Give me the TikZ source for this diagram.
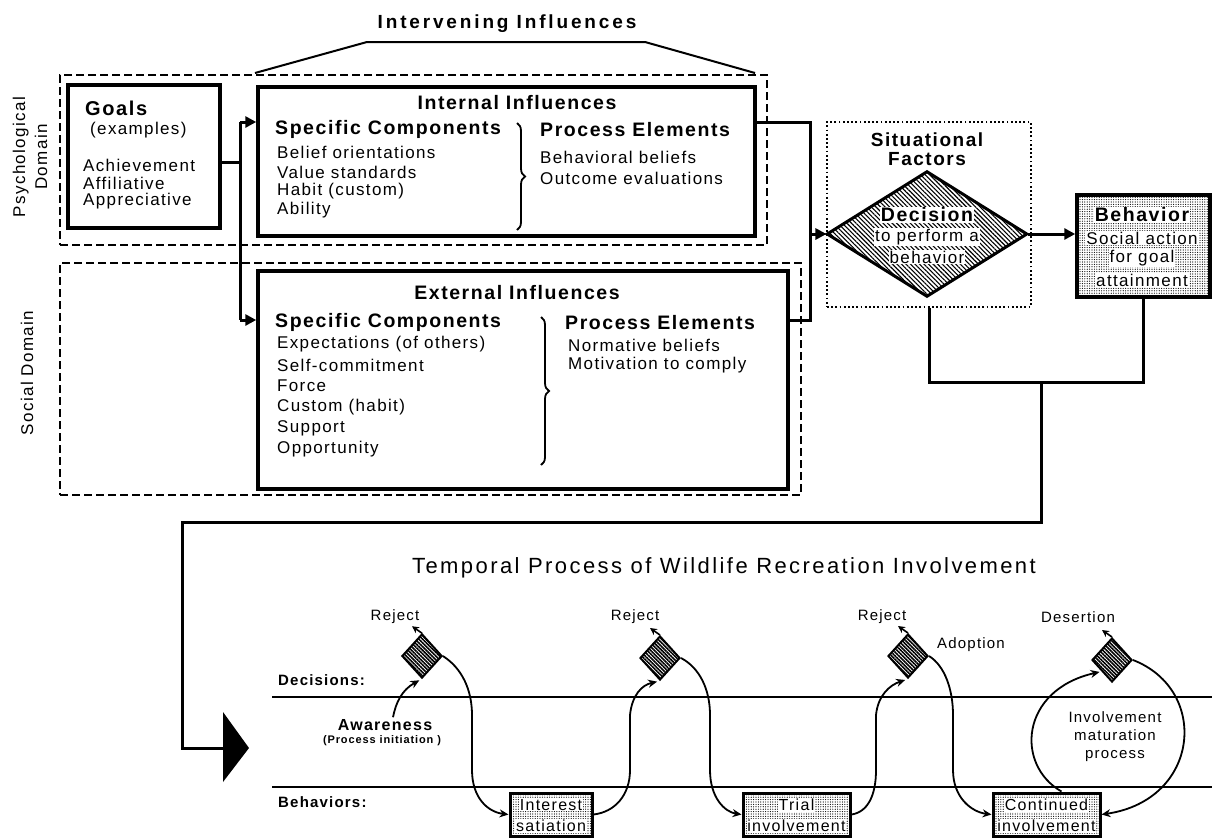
\documentclass[tikz,border=0pt]{standalone}
\usepackage{fontspec}
\setmainfont{Liberation Sans}[LetterSpace=8]
\usetikzlibrary{arrows.meta,patterns.meta,shapes.geometric,calc,decorations.pathreplacing}
\newcommand\fs[2]{\fontsize{#1}{#2}\selectfont}
\begin{document}
\begin{tikzpicture}[x=1pt,y=-1pt,
  bx/.style={draw, line width=3.5pt, inner sep=0pt},
  dbx/.style={draw, line width=1.8pt, dash pattern=on 8pt off 4pt, inner sep=0pt},
  dotbx/.style={draw, line width=1.8pt, dash pattern=on 1.8pt off 2.4pt, inner sep=0pt},
  conn/.style={line width=3pt},
  arr/.style={-{Triangle[length=11pt,width=11pt]}},
  crv/.style={line width=1.8pt,-{Stealth[length=9pt,width=8pt]}},
  rj/.style={line width=1.6pt,-{Stealth[length=7pt,width=7pt]}},
  tx/.style={inner sep=0pt, font=\fs{17}{20}},
  hd/.style={inner sep=0pt, font=\fs{19.5}{22}\bfseries},
  lb/.style={inner sep=0pt, font=\fs{15}{18}},
  lbb/.style={inner sep=0pt, font=\fs{15}{18}\bfseries},
  wt/.style={fill=white, inner sep=1pt},
  sdia/.style={diamond, draw, line width=2pt, minimum width=40pt, minimum height=44pt, inner sep=0pt,
    pattern={Lines[angle=-45,distance=2.6pt,line width=1.6pt]}},
  sbox/.style={draw, line width=3pt, minimum height=43pt, inner sep=0pt,
    pattern={Dots[radius=0.6pt,distance=2.4pt]}},
  stx/.style={fill=white, inner sep=0.8pt, font=\fs{16}{19}}
]
\useasboundingbox (0,0) rectangle (1212,838);

% ---------- Intervening influences bracket ----------
\node[inner sep=0pt, font=\fs{19}{22}\bfseries\addfontfeature{LetterSpace=15}] (intv) at (507,24) {Intervening Influences};
\coordinate (b1) at (255,73); \coordinate (b2) at (367,42);
\coordinate (b3) at (645,42); \coordinate (b4) at (755,73);
\draw[line width=2pt] (b1) -- (b2) -- (b3) -- (b4);

% ---------- domain boxes ----------
\node[dbx, minimum width=707pt, minimum height=170pt] (psych) at (413.5,160) {};
\node[dbx, minimum width=741pt, minimum height=232pt] (social) at (430.5,379) {};
\node[rotate=90, align=center, inner sep=0pt, font=\fs{17}{22}] (psylab) at (30,157) {Psychological\\Domain};
\node[rotate=90, inner sep=0pt, font=\fs{17}{20}] (soclab) at (27,373) {Social Domain};

% ---------- Goals ----------
\node[bx, minimum width=152pt, minimum height=143pt] (goals) at (144,156.5) {};
\node[inner sep=0pt, font=\fs{20}{24}\bfseries, anchor=west] (gt) at (85,108) {Goals};
\node[tx, anchor=west] (ge) at (90,130) {(examples)};
\node[tx, anchor=west] (g1) at (83,165) {Achievement};
\node[tx, anchor=west] (g2) at (83,183) {Affiliative};
\node[tx, anchor=west] (g3) at (83,201) {Appreciative};

% ---------- Internal influences ----------
\node[bx, minimum width=497pt, minimum height=149pt] (internal) at (506.5,161.5) {};
\node[hd] (it) at (517,103) {Internal Influences};
\node[hd, anchor=west] (isc) at (275,129) {Specific Components};
\node[tx, anchor=west] (i1) at (277,152) {Belief orientations};
\node[tx, anchor=west] (i2) at (277,172) {Value standards};
\node[tx, anchor=west] (i3) at (277,191) {Habit (custom)};
\node[tx, anchor=west] (i4) at (277,210) {Ability};
\draw[line width=1.8pt, decorate, decoration={brace, amplitude=8pt}] (517,123) -- (517,230);
\node[hd, anchor=west] (ipe) at (540,130) {Process Elements};
\node[tx, anchor=west] (ip1) at (540,157) {Behavioral beliefs};
\node[tx, anchor=west] (ip2) at (540,178) {Outcome evaluations};

% ---------- External influences ----------
\node[bx, minimum width=530pt, minimum height=218pt] (external) at (523,380) {};
\node[hd] (et) at (517,293) {External Influences};
\node[hd, anchor=west] (esc) at (275,322) {Specific Components};
\node[tx, anchor=west] (e1) at (277,344) {Expectations (of others)};
\node[tx, anchor=west] (e2) at (277,365) {Self-commitment};
\node[tx, anchor=west] (e3) at (277,386) {Force};
\node[tx, anchor=west] (e4) at (277,407) {Custom (habit)};
\node[tx, anchor=west] (e5) at (277,428) {Support};
\node[tx, anchor=west] (e6) at (277,449) {Opportunity};
\draw[line width=1.8pt, decorate, decoration={brace, amplitude=8pt}] (541,317) -- (541,465);
\node[hd, anchor=west] (epe) at (565,323) {Process Elements};
\node[tx, anchor=west] (ep1) at (568,345) {Normative beliefs};
\node[tx, anchor=west] (ep2) at (568,365) {Motivation to comply};

% ---------- Goals connectors ----------
\coordinate (jA) at (240,122); \coordinate (jB) at (240,162); \coordinate (jC) at (240,320);
\draw[conn] (goals.east|-jB) -- (jB);
\draw[conn] (jA) -- (jC);
\draw[conn,arr] (jA) -- (internal.west|-jA);
\draw[conn,arr] (jC) -- (external.west|-jC);

% ---------- Situational factors / decision ----------
\node[dotbx, minimum width=204pt, minimum height=185pt] (situ) at (929,214.5) {};
\node[hd, align=center, font=\fs{19}{19}\bfseries] (st) at (927,149) {Situational\\Factors};
\node[diamond, draw, line width=3pt, minimum width=200pt, minimum height=125pt, inner sep=0pt,
  pattern={Lines[angle=-45,distance=3.2pt,line width=1.1pt]}] (dec) at (927,234) {};
\node[hd, wt] (d1t) at (927,215) {Decision};
\node[tx, wt] (d2t) at (927,237) {to perform a};
\node[tx, wt] (d3t) at (927,257) {behavior};

\coordinate (jD) at (810,122); \coordinate (jE) at (810,320); \coordinate (jF) at (810,234);
\draw[conn] (internal.east|-jD) -- (jD) -- (jE) -- (external.east|-jE);
\draw[conn,arr] (jF) -- (dec.west);

% ---------- Behavior ----------
\node[bx, minimum width=133pt, minimum height=102pt, pattern={Dots[radius=0.6pt,distance=2.4pt]}] (behavior) at (1143.5,246) {};
\node[hd, wt] (bt) at (1142,215) {Behavior};
\node[tx, wt] (b1t) at (1142,238) {Social action};
\node[tx, wt] (b2t) at (1142,258) {for goal};
\node[tx, wt] (b3t) at (1142,280) {attainment};
\draw[conn,arr] (dec.east) -- (behavior.west|-dec.east);

% ---------- feedback to temporal process ----------
\coordinate (jH) at (1041,382); \coordinate (jI) at (1041,522);
\coordinate (jJ) at (182,522); \coordinate (jK) at (182,748);
\coordinate (bigA) at (223,748); \coordinate (bigT) at (223,712);
\coordinate (bigB) at (223,782); \coordinate (bigP) at (249,748);
\draw[conn] (situ.south) |- (jH) -| (behavior.south);
\draw[conn] (jH) -- (jI) -- (jJ) -- (jK) -- (bigA);
\fill (bigT) -- (bigP) -- (bigB) -- cycle;

% ---------- Temporal process ----------
\node[inner sep=0pt, font=\fs{22}{26}\addfontfeature{LetterSpace=11}] (tt) at (724,568) {Temporal Process of Wildlife Recreation Involvement};
\coordinate (dl1) at (272,697); \coordinate (dl2) at (1212,697);
\coordinate (bl1) at (272,787); \coordinate (bl2) at (1212,787);
\draw[line width=1.8pt] (dl1) -- (dl2);
\draw[line width=1.8pt] (bl1) -- (bl2);
\node[lbb, anchor=west] (declab) at (278,680) {Decisions:};
\node[lbb, anchor=west] (behlab) at (278,802) {Behaviors:};

\node[sdia] (d1) at (422,656) {};
\node[sdia] (d2) at (660,658) {};
\node[sdia] (d3) at (908,656) {};
\node[sdia] (d4) at (1112,660) {};

\node[lb] (r1) at (395,617) {Reject};
\node[lb] (r2) at (635,617) {Reject};
\node[lb] (r3) at (882,617) {Reject};
\node[lb] (r4) at (1078,617) {Desertion};
\node[lb] (adopt) at (971,645) {Adoption};
\draw[rj] (d1.north) -- ($(d1.north)+(-10,-7)$);
\draw[rj] (d2.north) -- ($(d2.north)+(-10,-7)$);
\draw[rj] (d3.north) -- ($(d3.north)+(-10,-7)$);
\draw[rj] (d4.north) -- ($(d4.north)+(-10,-7)$);

\node[inner sep=0pt, font=\fs{16}{19}\bfseries] (aw) at (385,725) {Awareness};
\node[inner sep=0pt, font=\fs{11}{13}\bfseries] (awp) at (382,741) {(Process initiation )};

\node[sbox, minimum width=82pt] (int) at (551,814.5) {};
\node[stx] at (551,805) {Interest};
\node[stx] at (551,826) {satiation};
\node[sbox, minimum width=107pt] (trial) at (796.5,814.5) {};
\node[stx] at (796.5,805) {Trial};
\node[stx] at (796.5,826) {involvement};
\node[sbox, minimum width=107pt] (cont) at (1046.5,814.5) {};
\node[stx] at (1046.5,805) {Continued};
\node[stx] at (1046.5,826) {involvement};

\node[align=center, inner sep=0pt, font=\fs{15}{18}] (mat) at (1115,737) {Involvement\\maturation\\process};

\draw[crv, shorten >=3pt] ($(aw.north)+(8,-2)$) .. controls (396,702) and (402,690) .. (d1.south);
\draw[crv] (d1.east) .. controls (462,668) and (472,690) .. (472,715) -- (472,770) .. controls (472,798) and (488,812) .. (int.west);
\draw[crv, shorten >=3pt] (int.east) .. controls (615,812) and (630,795) .. (630,770) -- (630,715) .. controls (632,695) and (642,685) .. (d2.south);
\draw[crv] (d2.east) .. controls (700,668) and (710,690) .. (710,715) -- (710,770) .. controls (710,798) and (725,812) .. (trial.west);
\draw[crv, shorten >=3pt] (trial.east) .. controls (868,812) and (876,795) .. (876,770) -- (876,715) .. controls (878,695) and (890,685) .. (d3.south);
\draw[crv] (d3.east) .. controls (945,666) and (953,690) .. (953,715) -- (953,770) .. controls (953,798) and (972,812) .. (cont.west);
\draw[crv, shorten >=2pt] ($(cont.north)+(15,0)$) .. controls (1015,765) and (1020,690) .. (d4.south west);
\draw[crv] (d4.east) .. controls (1210,690) and (1200,800) .. (cont.east);
\end{tikzpicture}
\end{document}
